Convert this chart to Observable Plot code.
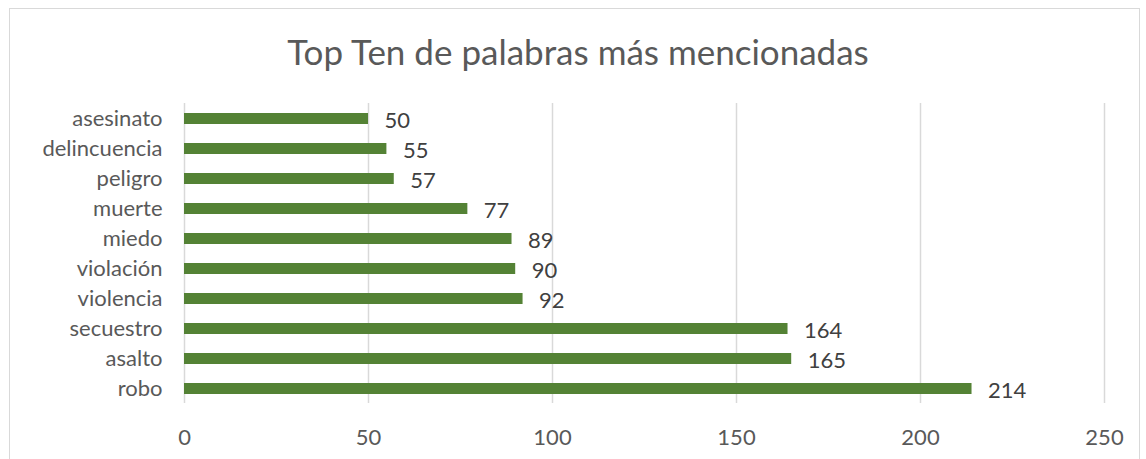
<!DOCTYPE html>
<html>
<head>
<meta charset="utf-8">
<script src="https://cdn.jsdelivr.net/npm/d3@7"></script>
<script src="https://cdn.jsdelivr.net/npm/@observablehq/plot@0.6"></script>
<style>
  html, body { margin: 0; padding: 0; background: #fff; overflow: hidden; }
  #wrap { position: relative; width: 1146px; height: 459px; font-family: Lato, "Open Sans", sans-serif; }
  #frame { position: absolute; left: 9px; top: 8px; width: 1131px; height: 470px; border: 1px solid #d9d9d9; box-sizing: border-box; }
  #title { height: 88px; line-height: 102px; text-align: center; font-size: 35px; color: #595959; position: relative; overflow: visible; padding-left: 10px; }
  #chart { position: relative; }
</style>
</head>
<body>
<div id="wrap">
  <div id="frame"></div>
  <div id="title">Top Ten de palabras más mencionadas</div>
  <div id="chart"></div>
</div>
<script>
const words = ["asesinato", "delincuencia", "peligro", "muerte", "miedo", "violación", "violencia", "secuestro", "asalto", "robo"];
const counts = [50, 55, 57, 77, 89, 90, 92, 164, 165, 214];
const xTicks = [0, 50, 100, 150, 200, 250];

const data = words.map((w, i) => ({word: w, count: counts[i]}));

const chart = Plot.plot({
  width: 1146,
  height: 371,
  marginTop: 15,
  marginBottom: 56,
  marginLeft: 184,
  marginRight: 42,
  style: {fontFamily: "Lato, 'Open Sans', sans-serif", fontSize: "22px", color: "#595959", background: "transparent"},
  x: {domain: [0, 250], ticks: xTicks, label: null, tickSize: 0, tickPadding: 26},
  y: {domain: words, label: null, tickSize: 0, tickPadding: 22, paddingInner: 0.64, paddingOuter: 0.32},
  marks: [
    Plot.gridX(xTicks, {stroke: "#d9d9d9", strokeOpacity: 1, strokeWidth: 1.5}),
    Plot.barX(data, {x: "count", y: "word", fill: "#548235"}),
    Plot.text(data, {x: "count", y: "word", text: d => String(d.count), textAnchor: "start", dx: 16, dy: 2, fill: "#404040", fontSize: 22}),
    Plot.axisX({ticks: xTicks, tickSize: 0, tickPadding: 26, fontSize: 22, fill: "#595959"}),
    Plot.axisY({tickSize: 0, tickPadding: 22, fontSize: 22, fill: "#595959"})
  ]
});
document.getElementById("chart").appendChild(chart);
</script>
</body>
</html>
